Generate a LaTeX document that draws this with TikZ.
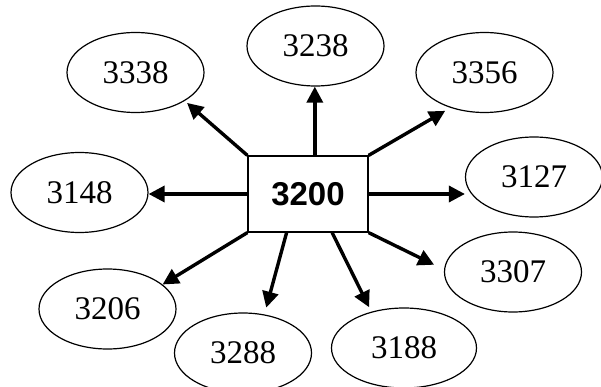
\documentclass[tikz,border=0pt]{standalone}
\usepackage{fontspec}
\setmainfont{Liberation Serif}
\newfontfamily\hubfont{Liberation Sans}
\usetikzlibrary{shapes.geometric}
\usetikzlibrary{arrows.meta}

\begin{document}
\begin{tikzpicture}
	[x=1pt,y=-1pt,
	leaf/.style={ellipse, draw, line width=1.2pt, minimum width=137pt, minimum height=80pt, inner sep=0pt, font=\fontsize{33}{36}\selectfont},
	hub/.style={rectangle, draw, line width=1.2pt, minimum width=120pt, minimum height=76pt, inner sep=0pt, font=\hubfont\bfseries\fontsize{33}{36}\selectfont},
	link/.style={->, line width=3.4pt, >={Triangle[length=16pt,width=16pt]}}]

\useasboundingbox (0,0) rectangle (601,387);

\node [hub] (c3200) at (308,194) {3200};
\node [leaf] (n3338) at (135.5,72.5) {3338};
\node [leaf] (n3238) at (315.5,46) {3238};
\node [leaf] (n3356) at (484.5,72.5) {3356};
\node [leaf] (n3148) at (79.5,192.5) {3148};
\node [leaf] (n3127) at (534,177) {3127};
\node [leaf] (n3307) at (513,272) {3307};
\node [leaf] (n3206) at (107.5,309) {3206};
\node [leaf] (n3288) at (243,353) {3288};
\node [leaf, minimum width=145pt] (n3188) at (404,348) {3188};

\draw [link] (c3200.80) -- (c3200.80 |- n3238.south);
\draw [link, shorten >=3pt] (c3200.north west) -- (n3338.330);
\draw [link, shorten >=6pt] (c3200.north east) -- (n3356.226);
\draw [link] (c3200.west) -- (c3200.west -| n3148.east);
\draw [link] (c3200.east) -- (c3200.east -| n3127.west);
\draw [link, shorten >=11pt] (c3200.south east) -- (n3307.178);
\draw [link] (c3200.south west) -- (n3206.24);
\draw [link, shorten >=7pt] (c3200.241) -- (n3288.61);
\draw [link, shorten >=5pt] (c3200.302) -- (n3188.132);

\end{tikzpicture}
\end{document}
